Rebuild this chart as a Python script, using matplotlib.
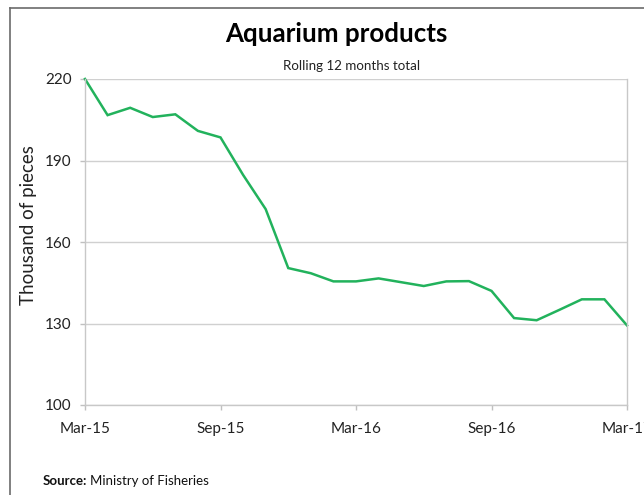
import matplotlib
matplotlib.use("Agg")
import matplotlib.pyplot as plt
from matplotlib.lines import Line2D

months = ["Mar-15","Apr-15","May-15","Jun-15","Jul-15","Aug-15","Sep-15","Oct-15","Nov-15",
          "Dec-15","Jan-16","Feb-16","Mar-16","Apr-16","May-16","Jun-16","Jul-16","Aug-16",
          "Sep-16","Oct-16","Nov-16","Dec-16","Jan-17","Feb-17","Mar-17"]
values = [220.0, 206.7, 209.4, 206.0, 207.0, 200.9, 198.5, 184.7, 172.1, 150.4, 148.5, 145.5,
          145.5, 146.6, 145.2, 143.8, 145.5, 145.6, 142.0, 132.0, 131.2, 135.0, 138.9, 138.9, 129.3]
xtick_labels = ["Mar-15", "Sep-15", "Mar-16", "Sep-16", "Mar-17"]
yticks = [100, 130, 160, 190, 220]

plt.rcParams['font.family'] = ['Lato', 'DejaVu Sans']

fig = plt.figure(figsize=(6.44, 4.95), dpi=100)
ax = fig.add_axes([85/644, 1-405/495, (627-85)/644, (405-79)/495])

x = list(range(len(months)))
ax.plot(x, values, color='#22b25c', lw=1.8, solid_joinstyle='miter', clip_on=False)
ax.set_xlim(0, len(months)-1)
ax.set_ylim(100, 220)
ax.set_yticks(yticks)
ax.set_yticklabels([str(v) for v in yticks], fontsize=11, color='#222222')
tick_pos = [months.index(m) for m in xtick_labels]
ax.set_xticks(tick_pos)
ax.set_xticklabels(xtick_labels, fontsize=11, color='#222222')
ax.grid(axis='y', color='#d0d0d0', lw=1)
ax.set_axisbelow(True)
for s in ax.spines.values():
    s.set_color('#c8c8c8')
    s.set_linewidth(1)
ax.spines['top'].set_visible(False)
ax.tick_params(axis='both', colors='#c0c0c0', labelcolor='#222222', length=3.6, width=1)
ax.tick_params(axis='x', pad=8.5)
ax.tick_params(axis='y', pad=6)

fig.text(29/644, 1-225/495, "Thousand of pieces", rotation=90, ha='center', va='center',
         fontsize=13.5, color='#222222')
fig.text(336/644, 1-34/495, "Aquarium products", ha='center', va='center',
         fontsize=18.6, fontweight='bold', color='#000000')
fig.text(352/644, 1-66/495, "Rolling 12 months total", ha='center', va='center',
         fontsize=9.6, color='#222222')
t1 = fig.text(43/644, 1-481/495, "Source:", ha='left', va='center', fontsize=9.5,
              fontweight='bold', color='#111111')
fig.canvas.draw()
bb = t1.get_window_extent()
fig.text((bb.x1 + 3)/644, 1-481/495, "Ministry of Fisheries", ha='left', va='center',
         fontsize=9.5, color='#111111')

fig.add_artist(Line2D([10/644, 10/644], [0, 1-8/495], color='#6b6b6b', lw=1.2))
fig.add_artist(Line2D([10/644, 1], [1-8/495, 1-8/495], color='#6b6b6b', lw=1.2))

fig.savefig("out.png", dpi=100)
